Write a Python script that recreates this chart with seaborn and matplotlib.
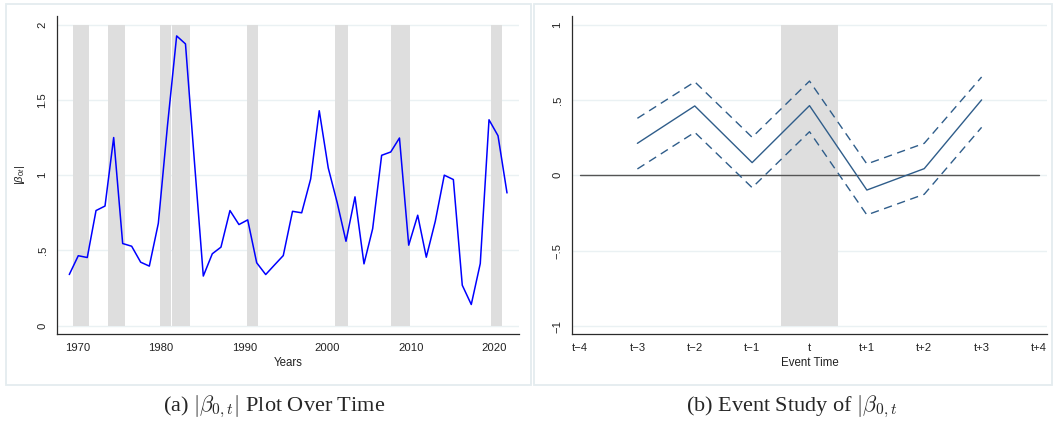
import matplotlib
matplotlib.use("Agg")
import matplotlib.pyplot as plt
import seaborn as sns
from matplotlib.patches import Rectangle

# panel (a): |beta_0t| over time
years = [1968.99, 1970.07, 1971.15, 1972.20, 1973.28, 1974.32, 1975.40, 1976.48,
         1977.56, 1978.60, 1979.68, 1980.78, 1981.88, 1982.94, 1984.00, 1985.08,
         1986.16, 1987.20, 1988.28, 1989.36, 1990.41, 1991.49, 1992.57, 1993.60,
         1994.68, 1995.79, 1996.89, 1997.97, 1999.00, 2000.08, 2001.16, 2002.21,
         2003.29, 2004.37, 2005.41, 2006.49, 2007.58, 2008.63, 2009.74, 2010.82,
         2011.85, 2012.93, 2014.01, 2015.10, 2016.17, 2017.25, 2018.33, 2019.38,
         2020.46, 2021.54]
beta_abs = [0.34, 0.465, 0.453, 0.765, 0.795, 1.25, 0.546, 0.528,
            0.422, 0.396, 0.68, 1.33, 1.925, 1.872, 1.10, 0.33,
            0.478, 0.522, 0.765, 0.672, 0.703, 0.418, 0.34, 0.402,
            0.466, 0.76, 0.75, 0.975, 1.428, 1.048, 0.816, 0.561,
            0.856, 0.411, 0.644, 1.132, 1.154, 1.247, 0.535, 0.734,
            0.455, 0.694, 1.0, 0.971, 0.269, 0.141, 0.413, 1.368,
            1.262, 0.882]
rec_start = [1969.47, 1973.64, 1979.88, 1981.32, 1990.32, 2000.88, 2007.60, 2019.60]
rec_end = [1971.35, 1975.64, 1981.20, 1983.44, 1991.64, 2002.40, 2009.90, 2020.90]

# panel (b): event study
event_time = [-3, -2, -1, 0, 1, 2, 3]
coef = [0.212, 0.46, 0.084, 0.462, -0.098, 0.044, 0.50]
ci_low = [0.042, 0.285, -0.082, 0.289, -0.263, -0.126, 0.318]
ci_high = [0.378, 0.62, 0.252, 0.625, 0.075, 0.212, 0.652]
event_ticks = [-4, -3, -2, -1, 0, 1, 2, 3, 4]
event_labels = ["t\u22124", "t\u22123", "t\u22122", "t\u22121", "t", "t+1", "t+2", "t+3", "t+4"]

sns.set_style("white")
plt.rcParams["font.family"] = ["Liberation Sans", "DejaVu Sans"]
plt.rcParams["mathtext.fontset"] = "custom"
plt.rcParams["mathtext.it"] = "Liberation Sans:italic"
plt.rcParams["mathtext.rm"] = "Liberation Sans"

W, H = 1056, 432
fig = plt.figure(figsize=(W / 100, H / 100), dpi=100)

def px_axes(l, t, r, b):
    return fig.add_axes([l / W, 1 - b / H, (r - l) / W, (b - t) / H])

grid_col = "#eaf1f3"
shade_col = "#dedede"
axis_col = "#2b2b2b"

def style(ax):
    for s in ["top", "right"]:
        ax.spines[s].set_visible(False)
    for s in ["left", "bottom"]:
        ax.spines[s].set_color(axis_col)
        ax.spines[s].set_linewidth(0.9)
    ax.tick_params(axis="both", direction="out", length=3.4, width=0.8,
                   color=axis_col, labelsize=8.1, labelcolor="#222222", pad=3)
    ax.tick_params(axis="y", pad=3.2)
    ax.set_facecolor("white")

# ---- (a)
ax1 = px_axes(56.7, 15.9, 519, 333.7)
style(ax1)
ax1.set_xlim(1967.48, 2022.98)
ax1.set_ylim(-0.053, 2.058)
for yv in [0, 0.5, 1, 1.5, 2]:
    ax1.axhline(yv, color=grid_col, lw=1.0, zorder=0)
for s, e in zip(rec_start, rec_end):
    ax1.fill_between([s, e], 0, 2, color=shade_col, lw=0, zorder=1)
sns.lineplot(x=years, y=beta_abs, ax=ax1, color="#0000ff", lw=1.1, zorder=3)
ax1.set_xticks([1970, 1980, 1990, 2000, 2010, 2020])
ax1.set_yticks([0, 0.5, 1, 1.5, 2])
ax1.set_yticklabels(["0", ".5", "1", "1.5", "2"], rotation=90, va="center")
ax1.set_xlabel("Years", fontsize=8.3, color="#222222")
ax1.xaxis.set_label_coords(0.5, -0.072)
ax1.set_ylabel(r"$|\beta_{0t}|$", fontsize=8.0, color="#222222")
ax1.yaxis.set_label_coords(-0.064, 0.5)

# ---- (b)
ax2 = px_axes(571.7, 15.8, 1047.3, 333.7)
style(ax2)
ax2.set_xlim(-4.145, 4.145)
ax2.set_ylim(-1.051, 1.058)
for yv in [-1, -0.5, 0, 0.5, 1]:
    ax2.axhline(yv, color=grid_col, lw=1.0, zorder=0)
ax2.fill_between([-0.5, 0.5], -1, 1, color=shade_col, lw=0, zorder=1)
ax2.plot([-4, 4], [0, 0], color="#555555", lw=1.0, zorder=2)
line_col = "#2f5d8a"
sns.lineplot(x=event_time, y=coef, ax=ax2, color=line_col, lw=1.0, zorder=3)
sns.lineplot(x=event_time, y=ci_low, ax=ax2, color=line_col, lw=1.0, zorder=3,
             linestyle=(0, (6, 4)))
sns.lineplot(x=event_time, y=ci_high, ax=ax2, color=line_col, lw=1.0, zorder=3,
             linestyle=(0, (6, 4)))
ax2.set_xticks(event_ticks)
ax2.set_xticklabels(event_labels)
ax2.set_yticks([-1, -0.5, 0, 0.5, 1])
ax2.set_yticklabels(["\u22121", "\u2212.5", "0", ".5", "1"], rotation=90, va="center")
ax2.set_xlabel("Event Time", fontsize=8.3, color="#222222")
ax2.xaxis.set_label_coords(0.5, -0.072)
ax2.set_ylabel("")

# graph region borders
border_col = "#e4ecef"
for l, r in [(5.5, 531), (534, 1052)]:
    fig.patches.append(Rectangle((l / W, 1 - 385 / H), (r - l) / W, (385 - 3.5) / H,
                                 transform=fig.transFigure, fill=False,
                                 edgecolor=border_col, lw=1.3, zorder=0))

# captions
cap_font = ["Liberation Serif", "DejaVu Serif"]
fig.text(274 / W, 1 - 407 / H, r"(a) $|\beta_{0,t}|$ Plot Over Time",
         ha="center", va="center", fontsize=16, family=cap_font, math_fontfamily="cm")
fig.text(792 / W, 1 - 407 / H, r"(b) Event Study of $|\beta_{0,t}$",
         ha="center", va="center", fontsize=16, family=cap_font, math_fontfamily="cm")

fig.savefig("out.png", dpi=100)
